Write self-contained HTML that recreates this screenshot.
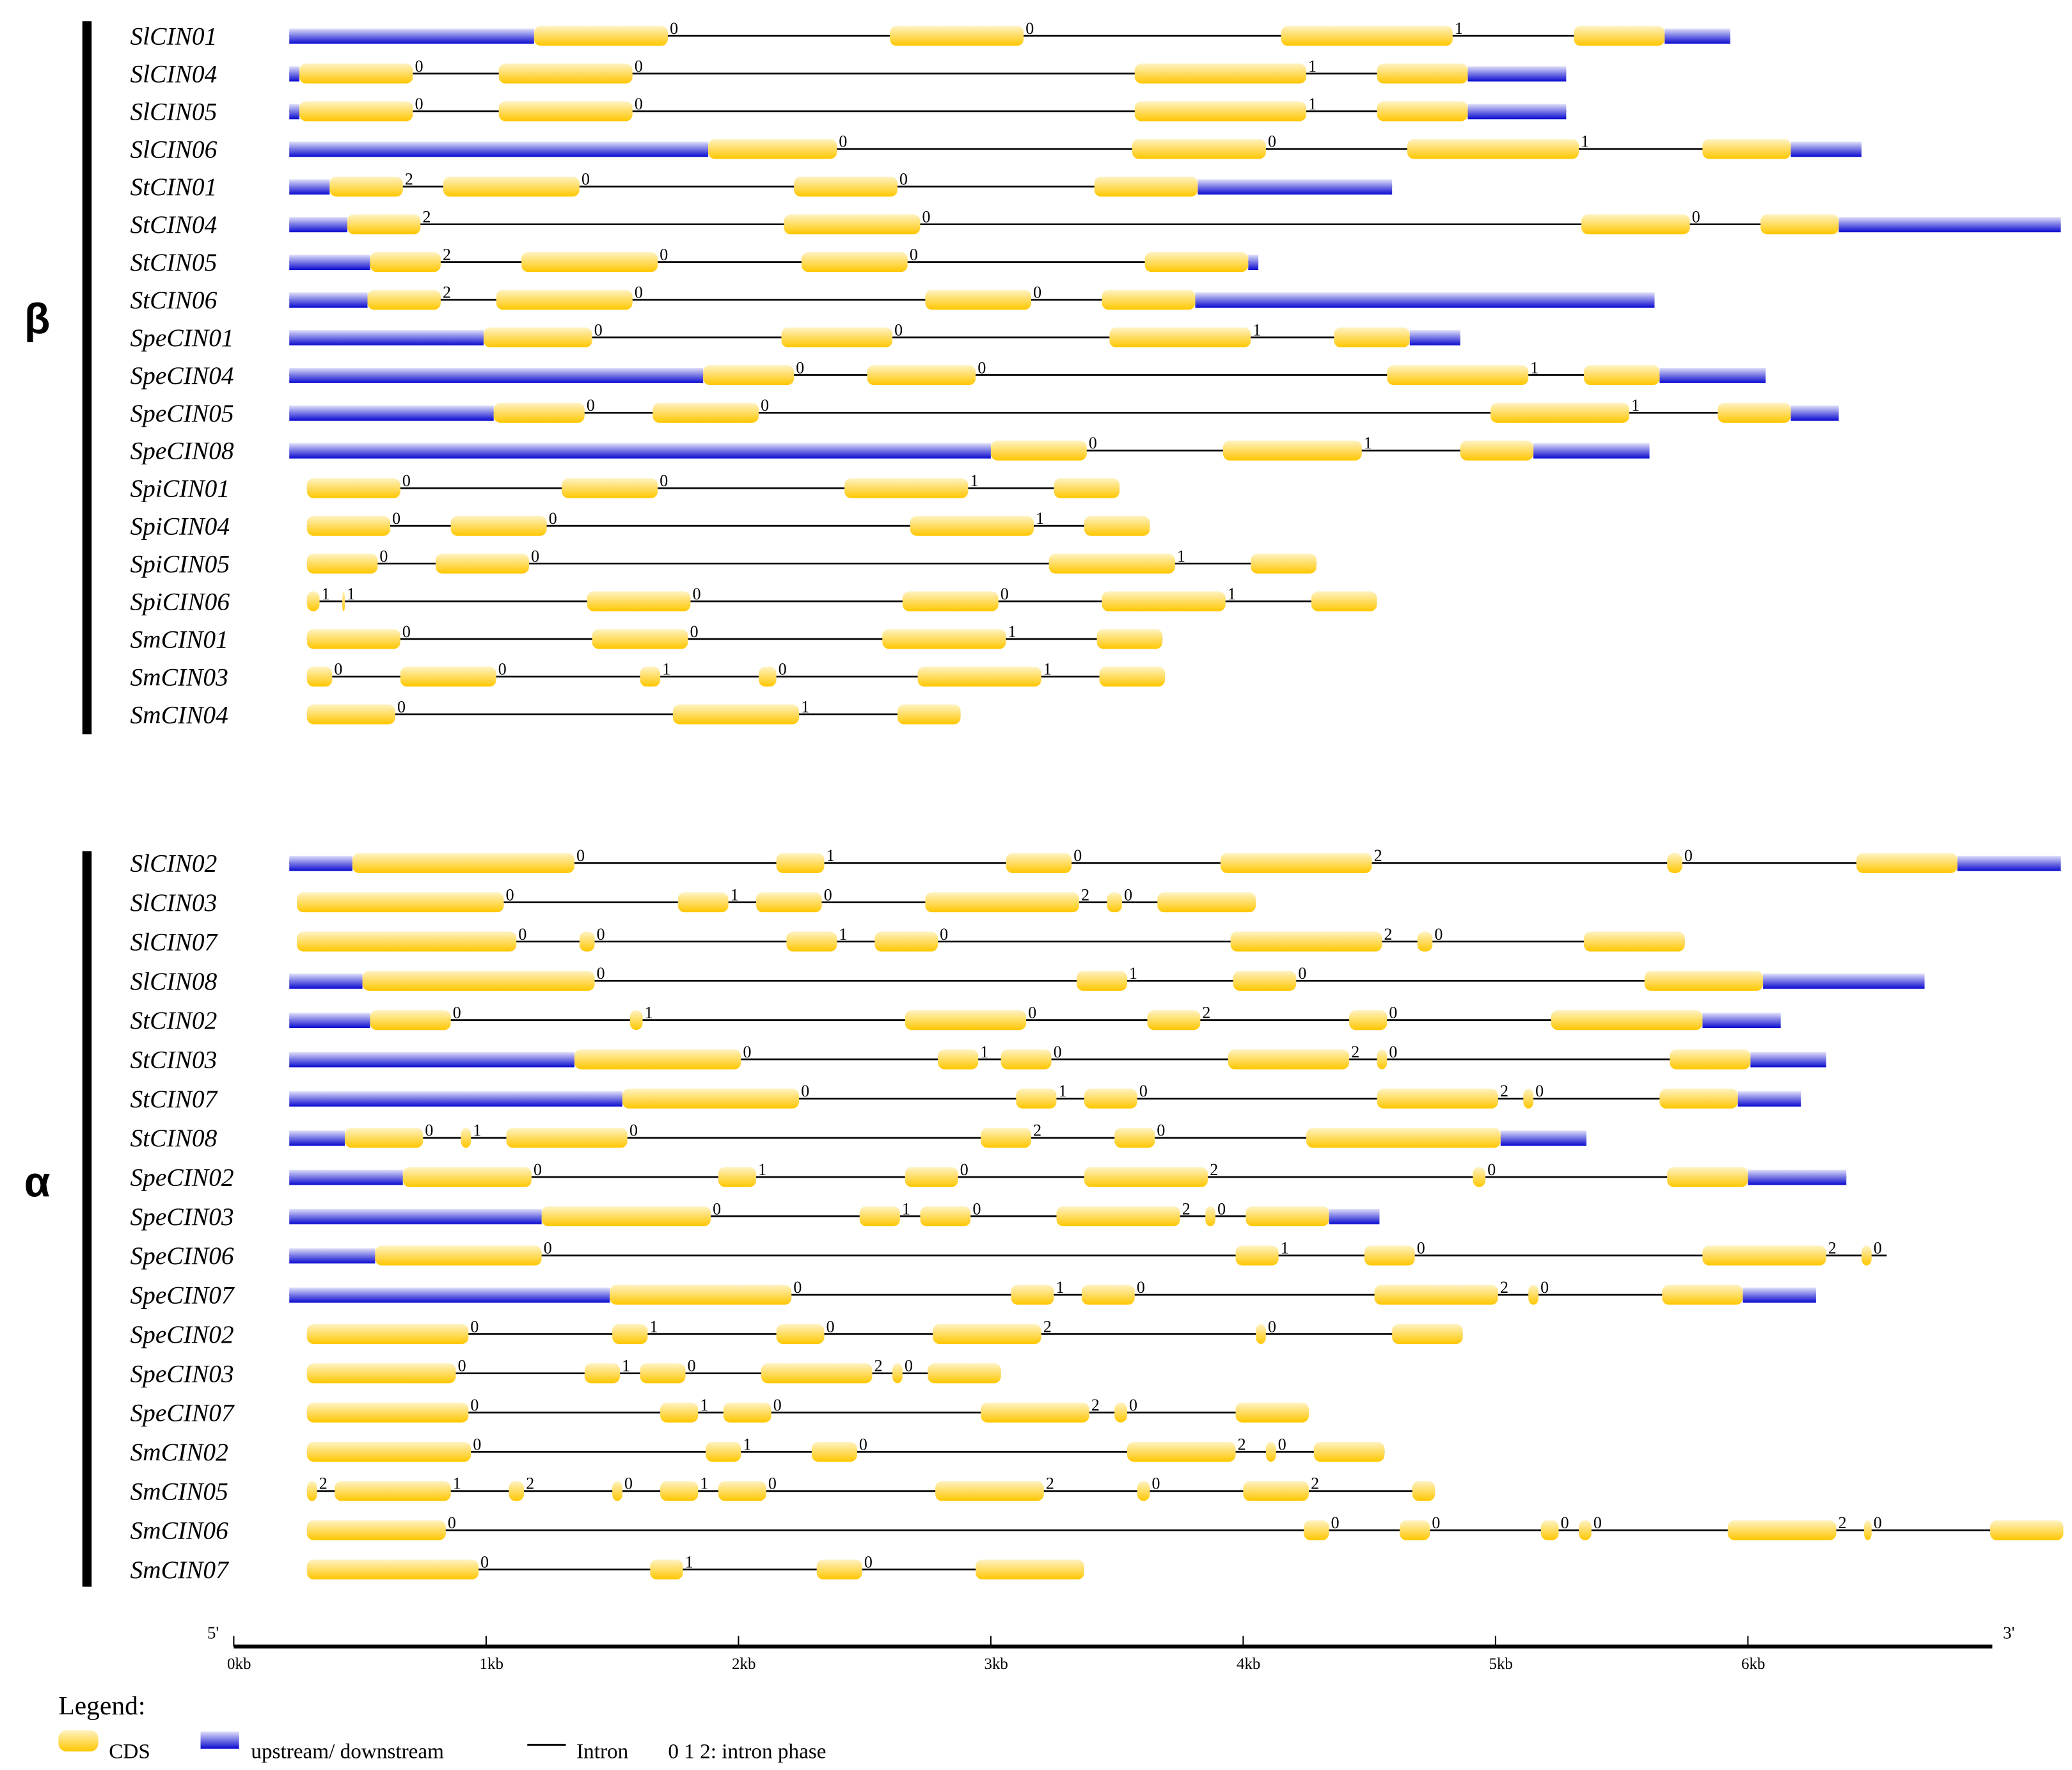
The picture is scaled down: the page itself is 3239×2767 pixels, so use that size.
<!DOCTYPE html>
<html><head><meta charset="utf-8"><style>
html,body{margin:0;padding:0;background:#fff;}
svg{display:block;}
</style></head><body>
<svg id="chart" xmlns="http://www.w3.org/2000/svg" width="3239" height="2767" viewBox="0 0 1560 1333" preserveAspectRatio="none">
<defs>
<linearGradient id="gCds" x1="0" y1="0" x2="0" y2="1"><stop offset="0" stop-color="#fff3c4"/><stop offset="1" stop-color="#ffc700"/></linearGradient>
<linearGradient id="gUtr" x1="0" y1="0" x2="0" y2="1"><stop offset="0" stop-color="#e0e0fa"/><stop offset="1" stop-color="#0a0ad0"/></linearGradient>
</defs>
<g id="marks"></g>
</svg>
<script>
// names of genes (beta group then alpha group)
const betaNames = ["SlCIN01","SlCIN04","SlCIN05","SlCIN06","StCIN01","StCIN04","StCIN05","StCIN06","SpeCIN01","SpeCIN04","SpeCIN05","SpeCIN08","SpiCIN01","SpiCIN04","SpiCIN05","SpiCIN06","SmCIN01","SmCIN03","SmCIN04"];
const alphaNames = ["SlCIN02","SlCIN03","SlCIN07","SlCIN08","StCIN02","StCIN03","StCIN07","StCIN08","SpeCIN02","SpeCIN03","SpeCIN06","SpeCIN07","SpeCIN02","SpeCIN03","SpeCIN07","SmCIN02","SmCIN05","SmCIN06","SmCIN07"];
// UTR segments (kb): [start,end] pairs
const betaUtr = [
 [[0.22,1.19],[5.67,5.93]],[[0.22,0.26],[4.89,5.28]],[[0.22,0.26],[4.89,5.28]],[[0.22,1.88],[6.17,6.45]],
 [[0.22,0.38],[3.82,4.59]],[[0.22,0.45],[6.36,7.24]],[[0.22,0.54],[4.02,4.06]],[[0.22,0.53],[3.81,5.63]],
 [[0.22,0.99],[4.66,4.86]],[[0.22,1.86],[5.65,6.07]],[[0.22,1.03],[6.17,6.36]],[[0.22,3.0],[5.15,5.61]],
 [],[],[],[],[],[],[]];
// CDS segments (kb)
const betaCds = [
 [[1.19,1.72],[2.6,3.13],[4.15,4.83],[5.31,5.67]],
 [[0.26,0.71],[1.05,1.58],[3.57,4.25],[4.53,4.89]],
 [[0.26,0.71],[1.05,1.58],[3.57,4.25],[4.53,4.89]],
 [[1.88,2.39],[3.56,4.09],[4.65,5.33],[5.82,6.17]],
 [[0.38,0.67],[0.83,1.37],[2.22,2.63],[3.41,3.82]],
 [[0.45,0.74],[2.18,2.72],[5.34,5.77],[6.05,6.36]],
 [[0.54,0.82],[1.14,1.68],[2.25,2.67],[3.61,4.02]],
 [[0.53,0.82],[1.04,1.58],[2.74,3.16],[3.44,3.81]],
 [[0.99,1.42],[2.17,2.61],[3.47,4.03],[4.36,4.66]],
 [[1.86,2.22],[2.51,2.94],[4.57,5.13],[5.35,5.65]],
 [[1.03,1.39],[1.66,2.08],[4.98,5.53],[5.88,6.17]],
 [[3.0,3.38],[3.92,4.47],[4.86,5.15]],
 [[0.29,0.66],[1.3,1.68],[2.42,2.91],[3.25,3.51]],
 [[0.29,0.62],[0.86,1.24],[2.68,3.17],[3.37,3.63]],
 [[0.29,0.57],[0.8,1.17],[3.23,3.73],[4.03,4.29]],
 [[0.29,0.34],[0.43,0.44],[1.4,1.81],[2.65,3.03],[3.44,3.93],[4.27,4.53]],
 [[0.29,0.66],[1.42,1.8],[2.57,3.06],[3.42,3.68]],
 [[0.29,0.39],[0.66,1.04],[1.61,1.69],[2.08,2.15],[2.71,3.2],[3.43,3.69]],
 [[0.29,0.64],[1.74,2.24],[2.63,2.88]]];
// intron phases after each CDS
const betaPhase = [[0,0,1],[0,0,1],[0,0,1],[0,0,1],[2,0,0],[2,0,0],[2,0,0],[2,0,0],[0,0,1],[0,0,1],[0,0,1],[0,1],[0,0,1],[0,0,1],[0,0,1],[1,1,0,0,1],[0,0,1],[0,0,1,0,1],[0,1]];
const alphaUtr = [
 [[0.22,0.47],[6.83,7.24]],[],[],[[0.22,0.51],[6.06,6.7]],
 [[0.22,0.54],[5.82,6.13]],[[0.22,1.35],[6.01,6.31]],[[0.22,1.54],[5.96,6.21]],[[0.22,0.44],[5.02,5.36]],
 [[0.22,0.67],[6.0,6.39]],[[0.22,1.22],[4.34,4.54]],[[0.22,0.56]],[[0.22,1.49],[5.98,6.27]],
 [],[],[],[],[],[],[]];
const alphaCds = [
 [[0.47,1.35],[2.15,2.34],[3.06,3.32],[3.91,4.51],[5.68,5.74],[6.43,6.83]],
 [[0.25,1.07],[1.76,1.96],[2.07,2.33],[2.74,3.35],[3.46,3.52],[3.66,4.05]],
 [[0.25,1.12],[1.37,1.43],[2.19,2.39],[2.54,2.79],[3.95,4.55],[4.69,4.75],[5.35,5.75]],
 [[0.51,1.43],[3.34,3.54],[3.96,4.21],[5.59,6.06]],
 [[0.54,0.86],[1.57,1.62],[2.66,3.14],[3.62,3.83],[4.42,4.57],[5.22,5.82]],
 [[1.35,2.01],[2.79,2.95],[3.04,3.24],[3.94,4.42],[4.53,4.57],[5.69,6.01]],
 [[1.54,2.24],[3.1,3.26],[3.37,3.58],[4.53,5.01],[5.11,5.15],[5.65,5.96]],
 [[0.44,0.75],[0.9,0.94],[1.08,1.56],[2.96,3.16],[3.49,3.65],[4.25,5.02]],
 [[0.67,1.18],[1.92,2.07],[2.66,2.87],[3.37,3.86],[4.91,4.96],[5.68,6.0]],
 [[1.22,1.89],[2.48,2.64],[2.72,2.92],[3.26,3.75],[3.85,3.89],[4.01,4.34]],
 [[0.56,1.22],[3.97,4.14],[4.48,4.68],[5.82,6.31],[6.45,6.49]],
 [[1.49,2.21],[3.08,3.25],[3.36,3.57],[4.52,5.01],[5.13,5.17],[5.66,5.98]],
 [[0.29,0.93],[1.5,1.64],[2.15,2.34],[2.77,3.2],[4.05,4.09],[4.59,4.87]],
 [[0.29,0.88],[1.39,1.53],[1.61,1.79],[2.09,2.53],[2.61,2.65],[2.75,3.04]],
 [[0.29,0.93],[1.69,1.84],[1.94,2.13],[2.96,3.39],[3.49,3.54],[3.97,4.26]],
 [[0.29,0.94],[1.87,2.01],[2.29,2.47],[3.54,3.97],[4.09,4.13],[4.28,4.56]],
 [[0.29,0.33],[0.4,0.86],[1.09,1.15],[1.5,1.54],[1.69,1.84],[1.92,2.11],[2.78,3.21],[3.58,3.63],[4.0,4.26],[4.67,4.76]],
 [[0.29,0.84],[4.24,4.34],[4.62,4.74],[5.18,5.25],[5.33,5.38],[5.92,6.35],[6.46,6.49],[6.96,7.25]],
 [[0.29,0.97],[1.65,1.78],[2.31,2.49],[2.94,3.37]]];
const alphaPhase = [[0,1,0,2,0],[0,1,0,2,0],[0,0,1,0,2,0],[0,1,0],[0,1,0,2,0],[0,1,0,2,0],[0,1,0,2,0],[0,1,0,2,0],[0,1,0,2,0],[0,1,0,2,0],[0,1,0,2,0],[0,1,0,2,0],[0,1,0,2,0],[0,1,0,2,0],[0,1,0,2,0],[0,1,0,2,0],[2,1,2,0,1,0,2,0,2],[0,0,0,0,0,2,0],[0,1,0]];
// gene end of intron line when it extends past last feature
const alphaLineEnd = {10:6.55};
const axisTicks = [0,1,2,3,4,5,6];
const axisTickLabels = ["0kb","1kb","2kb","3kb","4kb","5kb","6kb"];

const NS = "http://www.w3.org/2000/svg";
const X0 = 176, PXKB = 190;
function xs(kb){ return X0 + kb*PXKB; }
const root = document.getElementById('marks');
function mk(tag, attrs, parent){
  const e = document.createElementNS(NS, tag);
  for (const k in attrs) e.setAttribute(k, attrs[k]);
  (parent||root).appendChild(e);
  return e;
}
const SERIF = '"Liberation Serif", serif';

function drawGroup(names, utr, cds, phase, yTop, yBot, lineEnd){
  const n = names.length;
  const step = (yBot - yTop)/(n-1);
  names.forEach((name, i) => {
    const cy = yTop + i*step;
    const g = mk('g', {});
    
    
    const lab = mk('text', {x:98, y:cy+6.5, 'font-family':SERIF, 'font-style':'italic', 'font-size':19, fill:'#000'}, g);
    lab.textContent = name;
    
    
    const all = utr[i].concat(cds[i]);
    let s = Math.min(...all.map(a=>a[0])), e = Math.max(...all.map(a=>a[1]));
    if (lineEnd && lineEnd[i] !== undefined) e = lineEnd[i];
    const ln = mk('line', {x1:xs(s), x2:xs(e), y1:cy, y2:cy, stroke:'#000', 'stroke-width':1.3}, g);
    
    
    utr[i].forEach(u => {
      const r = mk('rect', {x:xs(u[0]), y:cy-5.5, width:Math.max(1,xs(u[1])-xs(u[0])), height:11.5, fill:'url(#gUtr)'}, g);
      
      
    });
    cds[i].forEach((c, j) => {
      const w = Math.max(2, xs(c[1])-xs(c[0]));
      const r = mk('rect', {x:xs(c[0]), y:cy-7.5, width:w, height:15, rx:Math.min(5, w/2), ry:5, fill:'url(#gCds)'}, g);
      
      
      if (j < phase[i].length){
        const t = mk('text', {x:xs(c[1])+1.5, y:cy-1.5, 'font-family':SERIF, 'font-size':12.5, fill:'#000'}, g);
        t.textContent = phase[i][j];
        
        
      }
    });
  });
}
drawGroup(betaNames, betaUtr, betaCds, betaPhase, 27, 538, null);
drawGroup(alphaNames, alphaUtr, alphaCds, alphaPhase, 650, 1182, alphaLineEnd);

// group bars and letters
[[16,553,240,'β','beta'],[641,1195,890,'α','alpha']].forEach(b => {
  const r = mk('rect', {x:62, y:b[0], width:7, height:b[1]-b[0], fill:'#000'});
  
  
  const t = mk('text', {x:28, y:b[2]+11, 'font-family':'"Liberation Sans", sans-serif', 'font-weight':'bold', 'font-size':32, 'text-anchor':'middle', fill:'#000'});
  t.textContent = b[3];
  
  
});

// axis
const axisY = 1240;
const ax = mk('rect', {x:176, y:axisY-1.5, width:1324, height:3, fill:'#000'});


axisTicks.forEach((k, i) => {
  const tk = mk('line', {x1:xs(k), x2:xs(k), y1:axisY-8, y2:axisY, stroke:'#000', 'stroke-width':1});
  
  
  const tl = mk('text', {x:xs(k)+4, y:axisY+17, 'font-family':SERIF, 'font-size':12, 'text-anchor':'middle', fill:'#000'});
  tl.textContent = axisTickLabels[i];
  
  
});
[[156,"5'",'five-prime-label'],[1508,"3'",'three-prime-label']].forEach(p => {
  const t = mk('text', {x:p[0], y:1234, 'font-family':SERIF, 'font-size':13, fill:'#000'});
  t.textContent = p[1];
  
  
});

// legend
const lg = mk('g', {});


const lt = mk('text', {x:44, y:1291, 'font-family':SERIF, 'font-size':20, fill:'#000'}, lg);
lt.textContent = 'Legend:';


const sw1 = mk('rect', {x:44, y:1303, width:30, height:16, rx:6, fill:'url(#gCds)'}, lg);


const sw2 = mk('rect', {x:151, y:1304, width:29, height:13, fill:'url(#gUtr)'}, lg);


const sw3 = mk('line', {x1:397, x2:426, y1:1314, y2:1314, stroke:'#000', 'stroke-width':1.5}, lg);


[[82,'CDS','legend-cds-label'],[189,'upstream/ downstream','legend-utr-label'],[434,'Intron','legend-intron-label'],[503,'0 1 2: intron phase','legend-phase-label']].forEach(p => {
  const t = mk('text', {x:p[0], y:1324, 'font-family':SERIF, 'font-size':16, fill:'#000'}, lg);
  t.textContent = p[1];
  
  
});
</script>
</body></html>
